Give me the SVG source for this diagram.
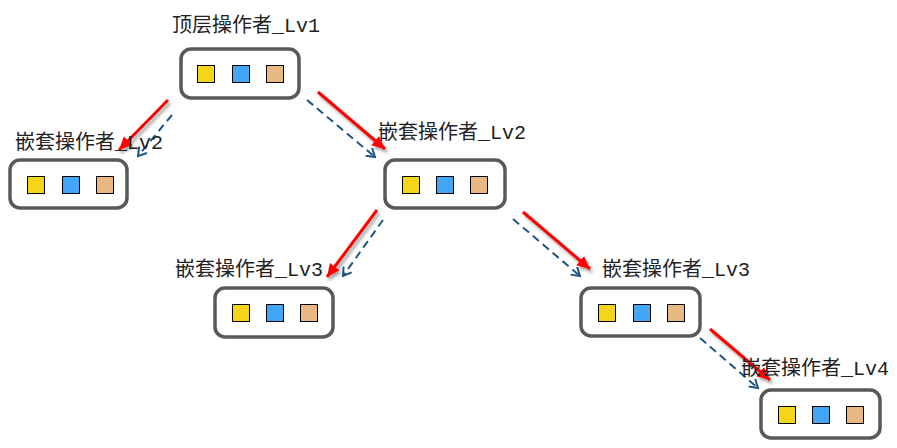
<svg xmlns="http://www.w3.org/2000/svg" width="897" height="448" viewBox="0 0 897 448">
<defs>
<style>
.node{fill:#fff;stroke:#595959;stroke-width:3.5}
.sq{stroke:#000;stroke-width:1}
.y{fill:#f5d51a}.b{fill:#42a5f5}.o{fill:#e9b984}
.lbl{font-family:"Liberation Mono","Noto Sans CJK SC",monospace;font-size:20px;fill:#222}
.red{stroke:#ff0000;stroke-width:3;fill:none;marker-end:url(#ra);filter:url(#sh)}
.blue{stroke:#1f5585;stroke-width:2;fill:none;stroke-dasharray:8,5;marker-end:url(#ba)}
</style>
<filter id="sh" x="-30%" y="-30%" width="160%" height="160%">
<feDropShadow dx="2" dy="3" stdDeviation="1.5" flood-color="#000" flood-opacity="0.35"/>
</filter>
<marker id="ra" markerUnits="userSpaceOnUse" markerWidth="16" markerHeight="14" refX="13" refY="6" orient="auto">
<path d="M0,0 L13,6 L0,12 z" fill="#ff0000"/>
</marker>
<marker id="ba" markerUnits="userSpaceOnUse" markerWidth="14" markerHeight="14" refX="10" refY="6" orient="auto">
<path d="M2,1 L10,6 L2,11" fill="none" stroke="#1f5585" stroke-width="2"/>
</marker>
</defs>
<g id="connectors">
<line class="blue" x1="172" y1="115" x2="138" y2="156"/>
<line class="red" x1="168" y1="100" x2="119" y2="150"/>
<line class="blue" x1="307" y1="100" x2="375" y2="157"/>
<line class="red" x1="318" y1="92" x2="385" y2="149"/>
<line class="blue" x1="383" y1="220" x2="343" y2="276"/>
<line class="red" x1="377" y1="210" x2="327" y2="277"/>
<line class="blue" x1="513" y1="219" x2="580" y2="276"/>
<line class="red" x1="523" y1="212" x2="590" y2="269"/>
<line class="blue" x1="700" y1="338" x2="758" y2="388"/>
<line class="red" x1="710" y1="329" x2="770" y2="380"/>
</g>
<g id="node-lv1">
<rect class="node" x="181" y="49" width="118" height="49" rx="10"/>
<rect class="sq y" x="197.5" y="65.5" width="17" height="17"/>
<rect class="sq b" x="232.5" y="65.5" width="17" height="17"/>
<rect class="sq o" x="266.5" y="65.5" width="17" height="17"/>
<text class="lbl" x="172" y="32">顶层操作者_Lv1</text>
</g>
<g id="node-lv2-left">
<rect class="node" x="10" y="160" width="117" height="48" rx="10"/>
<rect class="sq y" x="27.5" y="176.5" width="17" height="17"/>
<rect class="sq b" x="62.5" y="176.5" width="17" height="17"/>
<rect class="sq o" x="96.5" y="176.5" width="17" height="17"/>
<text class="lbl" x="15" y="149">嵌套操作者_Lv2</text>
</g>
<g id="node-lv2">
<rect class="node" x="385" y="160" width="120" height="48" rx="10"/>
<rect class="sq y" x="402.5" y="176.5" width="17" height="17"/>
<rect class="sq b" x="436.5" y="176.5" width="17" height="17"/>
<rect class="sq o" x="470.5" y="176.5" width="17" height="17"/>
<text class="lbl" x="378" y="139">嵌套操作者_Lv2</text>
</g>
<g id="node-lv3-left">
<rect class="node" x="215" y="288" width="118" height="49" rx="10"/>
<rect class="sq y" x="232.5" y="304.5" width="17" height="17"/>
<rect class="sq b" x="266.5" y="304.5" width="17" height="17"/>
<rect class="sq o" x="300.5" y="304.5" width="17" height="17"/>
<text class="lbl" x="175" y="276">嵌套操作者_Lv3</text>
</g>
<g id="node-lv3-right">
<rect class="node" x="581" y="288" width="119" height="48" rx="10"/>
<rect class="sq y" x="598.5" y="304.5" width="17" height="17"/>
<rect class="sq b" x="633.5" y="304.5" width="17" height="17"/>
<rect class="sq o" x="667.5" y="304.5" width="17" height="17"/>
<text class="lbl" x="602" y="276">嵌套操作者_Lv3</text>
</g>
<g id="node-lv4">
<rect class="node" x="761" y="390" width="119" height="48" rx="10"/>
<rect class="sq y" x="778.5" y="406.5" width="17" height="17"/>
<rect class="sq b" x="812.5" y="406.5" width="17" height="17"/>
<rect class="sq o" x="846.5" y="406.5" width="17" height="17"/>
<text class="lbl" x="741" y="375">嵌套操作者_Lv4</text>
</g>
</svg>
